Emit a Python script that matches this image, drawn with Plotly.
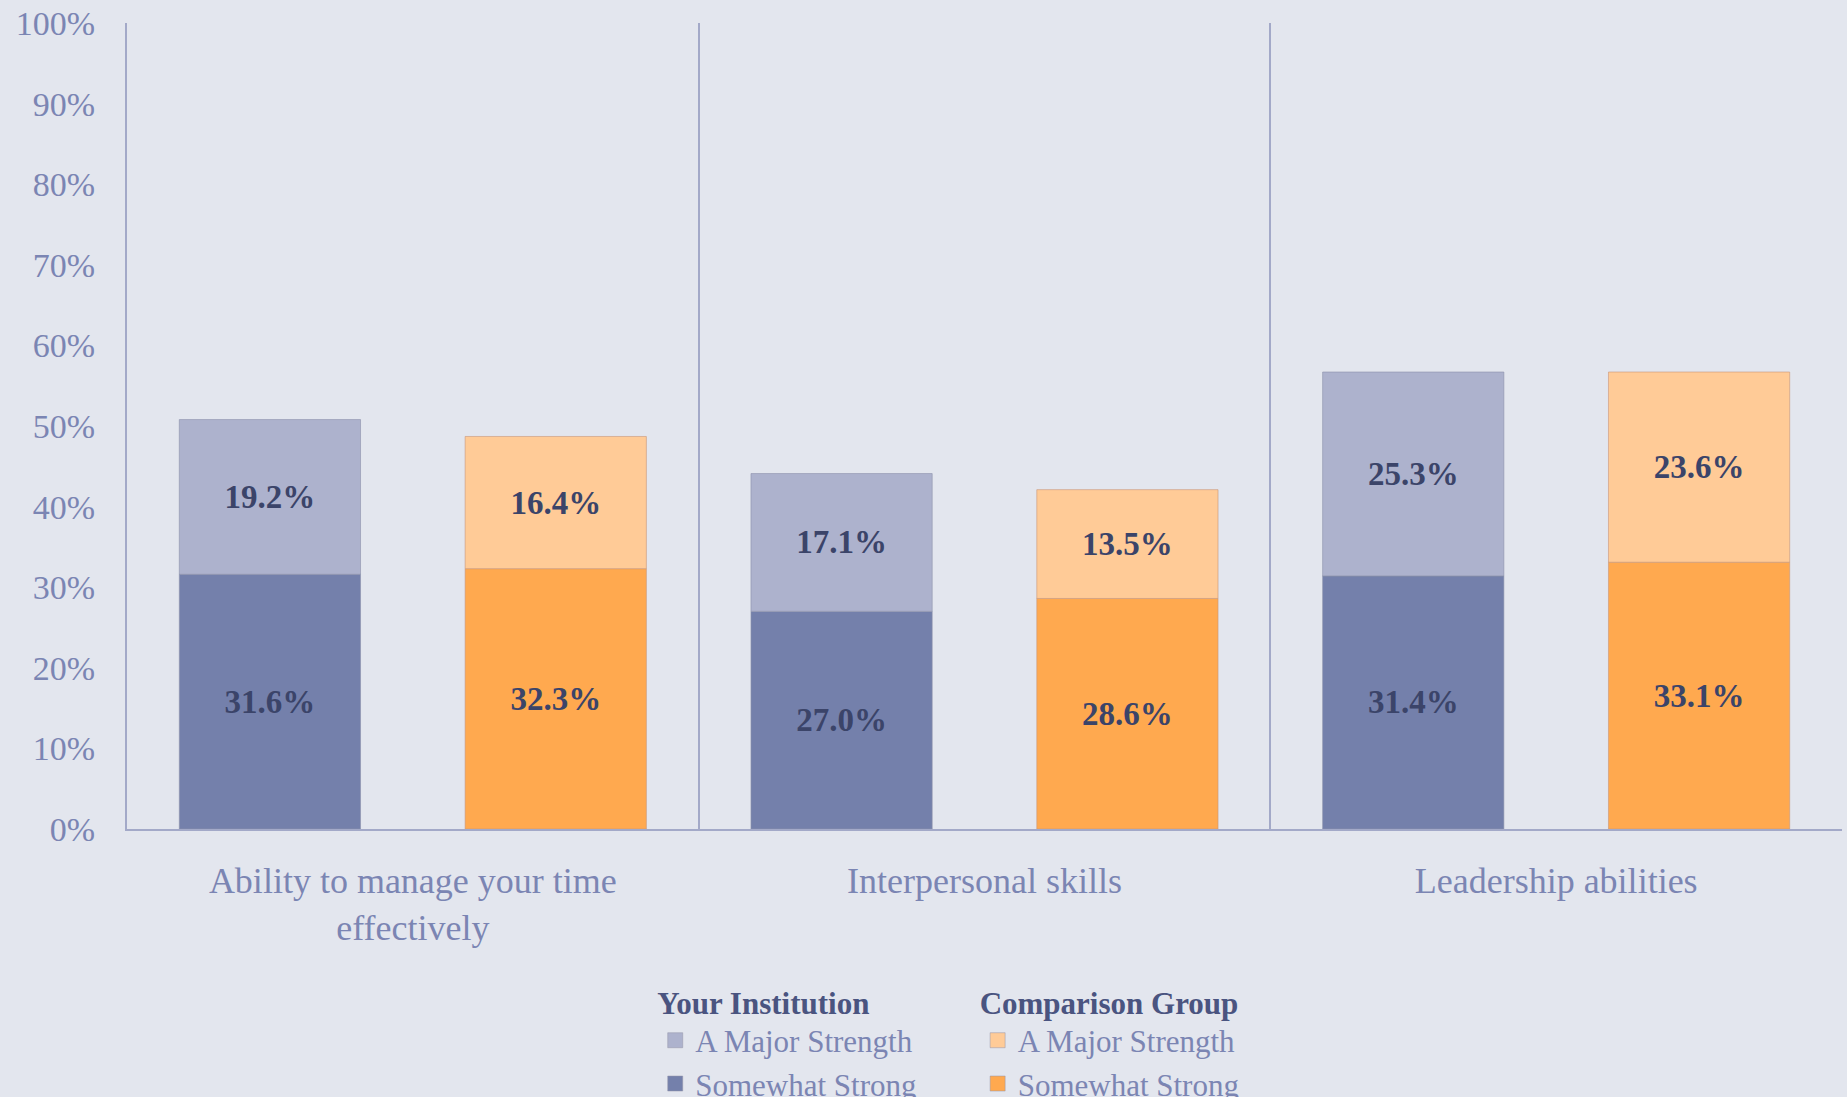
import plotly.graph_objects as go

categories = ["Ability to manage your time<br>effectively", "Interpersonal skills", "Leadership abilities"]
inst_somewhat = [31.6, 27.0, 31.4]
inst_major = [19.2, 17.1, 25.3]
comp_somewhat = [32.3, 28.6, 33.1]
comp_major = [16.4, 13.5, 23.6]
y_ticks = [0, 10, 20, 30, 40, 50, 60, 70, 80, 90, 100]
y_tick_labels = [f"{v}%" for v in y_ticks]

BG = "#E3E6EE"
FONT = "Liberation Serif"
LABEL_COLOR = "#3B4469"
TICK_COLOR = "#7B85B3"
AXIS_COLOR = "#A3A9C8"
TITLE_COLOR = "#4A5480"

C_INST_SOME = "#7480AB"
C_INST_MAJ = "#ADB2CD"
C_COMP_SOME = "#FFA94F"
C_COMP_MAJ = "#FFCB97"

idx = list(range(len(categories)))
x_inst = [i - 0.25 for i in idx]
x_comp = [i + 0.25 for i in idx]
W = 0.317

def fmt(v):
    return [f"{x:.1f}%" for x in v]

common = dict(width=W, textposition="inside", insidetextanchor="middle",
              textfont=dict(family=FONT, size=33, color=LABEL_COLOR, weight="bold"),
              hoverinfo="skip", showlegend=False)

fig = go.Figure()
fig.add_trace(go.Bar(x=x_inst, y=inst_somewhat, text=fmt(inst_somewhat),
                     marker=dict(color=C_INST_SOME, line=dict(width=1, color="rgba(140,145,170,0.6)")), **common))
fig.add_trace(go.Bar(x=x_inst, y=inst_major, base=inst_somewhat, text=fmt(inst_major),
                     marker=dict(color=C_INST_MAJ, line=dict(width=1, color="rgba(140,145,170,0.6)")), **common))
fig.add_trace(go.Bar(x=x_comp, y=comp_somewhat, text=fmt(comp_somewhat),
                     marker=dict(color=C_COMP_SOME, line=dict(width=1, color="rgba(200,150,120,0.6)")), **common))
fig.add_trace(go.Bar(x=x_comp, y=comp_major, base=comp_somewhat, text=fmt(comp_major),
                     marker=dict(color=C_COMP_MAJ, line=dict(width=1, color="rgba(200,150,120,0.6)")), **common))

# legend entries (square swatches)
for name, color, leg in [("A Major Strength", C_INST_MAJ, "legend"),
                         ("Somewhat Strong", C_INST_SOME, "legend"),
                         ("A Major Strength", C_COMP_MAJ, "legend2"),
                         ("Somewhat Strong", C_COMP_SOME, "legend2")]:
    fig.add_trace(go.Scatter(x=[None], y=[None], mode="markers", name=name, legend=leg,
                             marker=dict(symbol="square", size=15, color=color,
                                         line=dict(width=1, color="rgba(150,150,170,0.5)")),
                             hoverinfo="skip"))

legend_common = dict(
    orientation="v", traceorder="normal", yanchor="top", xanchor="left",
    bgcolor="rgba(0,0,0,0)", font=dict(family=FONT, size=31, color=TICK_COLOR),
    itemclick=False, itemdoubleclick=False, tracegroupgap=0, itemwidth=30,
)

fig.update_layout(
    width=1847, height=1097,
    margin=dict(l=127, r=5, t=23, b=268, autoexpand=False),
    paper_bgcolor=BG, plot_bgcolor=BG,
    barmode="overlay",
    font=dict(family=FONT, color=TICK_COLOR),
    showlegend=True,
    legend=dict(x=0.308, y=-0.179, title=dict(text="<b>Your Institution</b>",
                font=dict(family=FONT, size=31, color=TITLE_COLOR)), **legend_common),
    legend2=dict(x=0.496, y=-0.179, title=dict(text="<b>Comparison Group</b>",
                 font=dict(family=FONT, size=31, color=TITLE_COLOR)), **legend_common),
    xaxis=dict(
        range=[-0.5, 2.5], tickmode="array", tickvals=idx, ticktext=categories,
        showgrid=False, zeroline=False, showline=True, linecolor=AXIS_COLOR, linewidth=2,
        tickfont=dict(family=FONT, size=36, color=TICK_COLOR), ticks="", ticklabelstandoff=19,
        automargin=False,
        minor=dict(tick0=0.5, dtick=1, showgrid=True, gridcolor=AXIS_COLOR, gridwidth=1.5),
    ),
    yaxis=dict(
        range=[0, 100], tickmode="array", tickvals=y_ticks, ticktext=y_tick_labels,
        showgrid=False, zeroline=False, showline=True, linecolor=AXIS_COLOR, linewidth=2,
        tickfont=dict(family=FONT, size=34, color=TICK_COLOR), ticks="", ticklabelstandoff=23,
        automargin=False,
    ),
)

fig.write_html("out.html", config={"displayModeBar": False},
               post_script="document.body.style.margin='0';document.body.style.background='%s';" % BG)
